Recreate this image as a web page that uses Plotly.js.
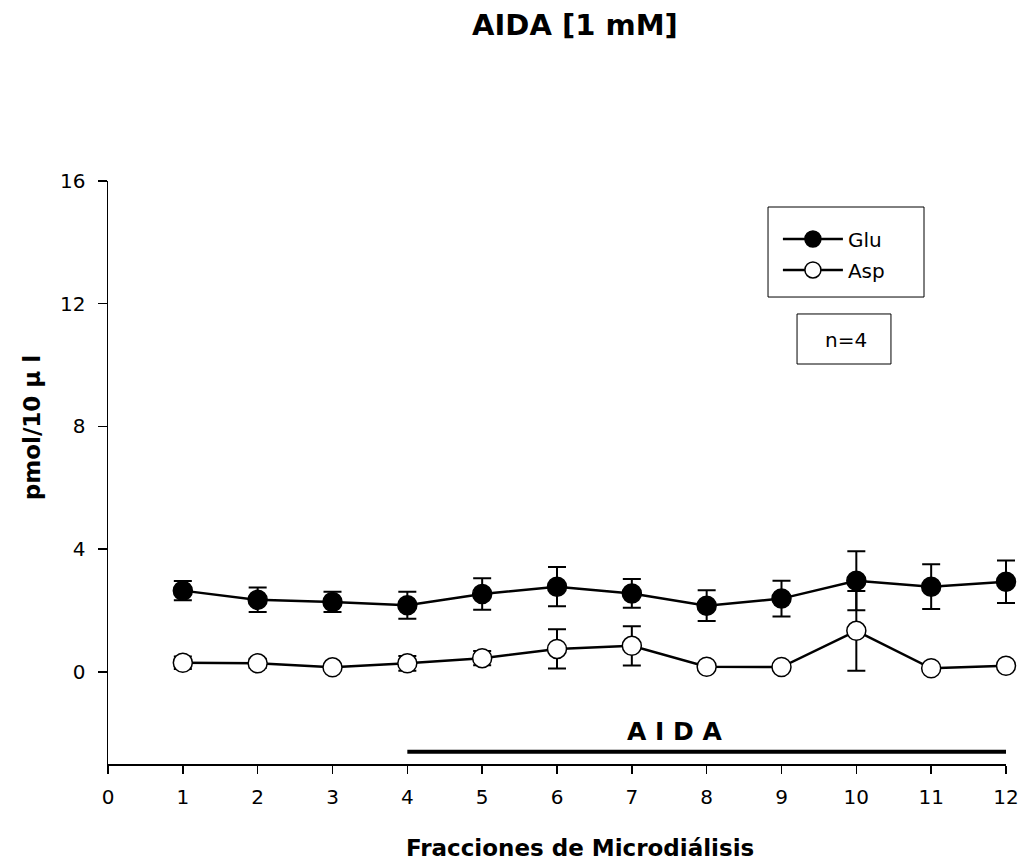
<!DOCTYPE html>
<html>
<head>
<meta charset="utf-8">
<script src="https://cdn.plot.ly/plotly-3.0.1.min.js"></script>
<style>html,body{margin:0;padding:0;background:#fff;}#chart{width:1024px;height:863px;}</style>
</head>
<body>
<div id="chart"></div>
<script>
// ---- data ----
const fractions = [1, 2, 3, 4, 5, 6, 7, 8, 9, 10, 11, 12];
const glu      = [2.65, 2.35, 2.28, 2.17, 2.54, 2.78, 2.56, 2.16, 2.39, 2.97, 2.78, 2.94];
const gluErr   = [0.31, 0.40, 0.33, 0.44, 0.51, 0.64, 0.47, 0.50, 0.58, 0.96, 0.73, 0.69];
const asp      = [0.30, 0.28, 0.15, 0.28, 0.45, 0.75, 0.85, 0.17, 0.16, 1.34, 0.12, 0.20];
const aspErr   = [0.20, 0.15, 0.08, 0.24, 0.23, 0.64, 0.64, 0.08, 0.08, 1.30, 0.08, 0.10];
const seriesNames = ["Glu", "Asp"];
const xTicks = [0, 1, 2, 3, 4, 5, 6, 7, 8, 9, 10, 11, 12];
const yTicks = [0, 4, 8, 12, 16];
const aidaStart = 4, aidaEnd = 12, aidaLevel = -2.6;
const aidaLabel = "A I D A";
const nLabel = "n=4";

const FONT = "DejaVu Sans, Verdana, sans-serif";

const traces = [
  {
    x: fractions, y: glu, name: seriesNames[0], type: "scatter", mode: "lines+markers",
    legendgroup: "g1", cliponaxis: false,
    line: {color: "black", width: 2.5},
    marker: {symbol: "circle", size: 19, color: "black", line: {color: "black", width: 1.5}},
    error_y: {type: "data", array: gluErr, visible: true, color: "black", thickness: 2, width: 9}
  },
  {
    x: fractions, y: asp, name: seriesNames[1], type: "scatter", mode: "lines+markers",
    legendgroup: "g2", cliponaxis: false,
    line: {color: "black", width: 2.5},
    marker: {symbol: "circle", size: 19, color: "white", line: {color: "black", width: 1.5}},
    error_y: {type: "data", array: aspErr, visible: true, color: "black", thickness: 2, width: 9}
  }
];

const layout = {
  width: 1024, height: 863,
  paper_bgcolor: "white", plot_bgcolor: "white",
  margin: {l: 108, r: 18, t: 181, b: 99, pad: 0},
  font: {family: FONT, color: "black", size: 20},
  title: {text: "<b>AIDA [1 mM]</b>", x: 0.52, xref: "paper", xanchor: "center",
          y: 0.971, yref: "container", yanchor: "middle", font: {size: 29, family: FONT, color: "black"}},
  showlegend: true,
  legend: {x: 0.746, y: 0.934, xanchor: "left", yanchor: "top", bgcolor: "rgba(0,0,0,0)",
           borderwidth: 0, font: {size: 20, family: FONT}, traceorder: "grouped", tracegroupgap: 2,
           itemwidth: 60},
  xaxis: {
    range: [0, 12], tickvals: xTicks, ticktext: xTicks.map(String),
    showline: true, linecolor: "black", linewidth: 1.5, mirror: false,
    ticks: "outside", ticklen: 8, tickwidth: 1.5, tickcolor: "black",
    showgrid: false, zeroline: false, tickfont: {size: 20, family: FONT},
    ticklabelstandoff: 6
  },
  yaxis: {
    range: [-3, 16], tickvals: yTicks, ticktext: yTicks.map(String),
    showline: true, linecolor: "black", linewidth: 1.5, mirror: false,
    ticks: "outside", ticklen: 9, tickwidth: 1.5, tickcolor: "black",
    showgrid: false, zeroline: false, tickfont: {size: 20, family: FONT},
    ticklabelstandoff: 8
  },
  shapes: [
    {type: "line", xref: "x", yref: "y", x0: aidaStart, x1: aidaEnd, y0: aidaLevel, y1: aidaLevel,
     line: {color: "black", width: 4}},
    {type: "rect", xref: "paper", yref: "paper", x0: 0.735, x1: 0.9087, y0: 0.801, y1: 0.9554,
     line: {color: "black", width: 1}, fillcolor: "rgba(0,0,0,0)"},
    {type: "rect", xref: "paper", yref: "paper", x0: 0.7673, x1: 0.8719, y0: 0.6861, y1: 0.7719,
     line: {color: "black", width: 1}, fillcolor: "rgba(0,0,0,0)"}
  ],
  annotations: [
    {text: "<b>" + aidaLabel + "</b>", x: 7.58, y: -1.93, xref: "x", yref: "y",
     showarrow: false, xanchor: "center", yanchor: "middle", font: {size: 25, family: FONT}},
    {text: nLabel, x: 0.8218, y: 0.7273, xref: "paper", yref: "paper",
     showarrow: false, xanchor: "center", yanchor: "middle", font: {size: 20, family: FONT}},
    {text: "<b>Fracciones de Microdiálisis</b>", x: 0.5256, y: -0.144, xref: "paper", yref: "paper",
     showarrow: false, xanchor: "center", yanchor: "middle", font: {size: 23, family: FONT}},
    {text: "<b>pmol/10 µ l</b>", x: -0.0846, y: 0.576, xref: "paper", yref: "paper", textangle: -90,
     showarrow: false, xanchor: "center", yanchor: "middle", font: {size: 23, family: FONT}}
  ]
};

function unclip(gd) {
  // let the error bars at the right edge show in full, as the markers do
  gd.querySelectorAll(".cartesianlayer [clip-path], .cartesianlayer [style*='clip-path']").forEach(function (el) {
    el.removeAttribute("clip-path");
    if (el.style) el.style.clipPath = "";
  });
}

Plotly.newPlot("chart", traces, layout, {displayModeBar: false, staticPlot: true}).then(function (gd) {
  unclip(gd);
  setTimeout(function () { unclip(gd); }, 50);
});
</script>
</body>
</html>
